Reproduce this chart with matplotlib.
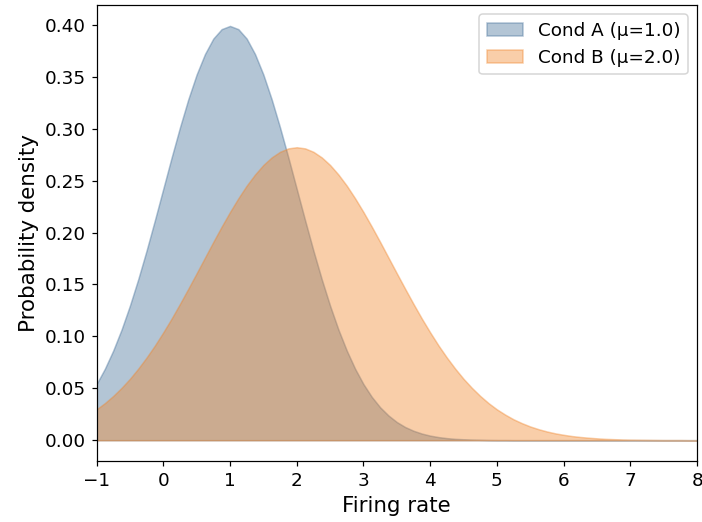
import numpy as np
import matplotlib
matplotlib.use("Agg")
import matplotlib.pyplot as plt

# firing rate grid and densities
rate = np.arange(-1, 8.001, 0.125)

dens_a = [0.0540, 0.0688, 0.0863, 0.1065, 0.1295, 0.1550, 0.1826, 0.2119, 0.2420,
          0.2721, 0.3011, 0.3282, 0.3521, 0.3718, 0.3867, 0.3958, 0.3989,
          0.3958, 0.3867, 0.3718, 0.3521, 0.3282, 0.3011, 0.2721, 0.2420,
          0.2119, 0.1826, 0.1550, 0.1295, 0.1065, 0.0863, 0.0688, 0.0540,
          0.0417, 0.0317, 0.0238, 0.0175, 0.0127, 0.0091, 0.0064, 0.0044,
          0.0030, 0.0020, 0.0013, 0.0009, 0.0006, 0.0004, 0.0002, 0.0001,
          0.0001] + [0.0] * 23

dens_b = [0.0297, 0.0357, 0.0426, 0.0504, 0.0591, 0.0689, 0.0796, 0.0912, 0.1038,
          0.1171, 0.1312, 0.1458, 0.1607, 0.1758, 0.1909, 0.2056, 0.2197, 0.2329,
          0.2451, 0.2558, 0.2650, 0.2723, 0.2777, 0.2810, 0.2821,
          0.2810, 0.2777, 0.2723, 0.2650, 0.2558, 0.2451, 0.2329, 0.2197,
          0.2056, 0.1909, 0.1758, 0.1607, 0.1458, 0.1312, 0.1171, 0.1038,
          0.0912, 0.0796, 0.0689, 0.0591, 0.0504, 0.0426, 0.0357, 0.0297,
          0.0246, 0.0201, 0.0164, 0.0132, 0.0106, 0.0084, 0.0066, 0.0052,
          0.0040, 0.0031, 0.0024, 0.0018, 0.0013, 0.0010, 0.0007, 0.0005,
          0.0004, 0.0003, 0.0002, 0.0001, 0.0001, 0.0001, 0.0, 0.0]

labels = ["Cond A (\u03bc=1.0)", "Cond B (\u03bc=2.0)"]
colors = ["#416e98", "#f0852a"]

fig, ax = plt.subplots(figsize=(702 / 110, 522 / 110), dpi=110)

for d, lab, c in zip([dens_a, dens_b], labels, colors):
    ax.fill_between(rate, 0, d, color=c, alpha=0.4, label=lab)

ax.set_xlim(-1, 8)
ax.set_xlabel("Firing rate", fontsize=14)
ax.set_ylabel("Probability density", fontsize=14)
ax.tick_params(labelsize=12)
ax.legend(loc="upper right", fontsize=12)

fig.subplots_adjust(left=0.1375, right=0.993, top=0.990, bottom=0.117)
fig.savefig("out.png", dpi=110)
